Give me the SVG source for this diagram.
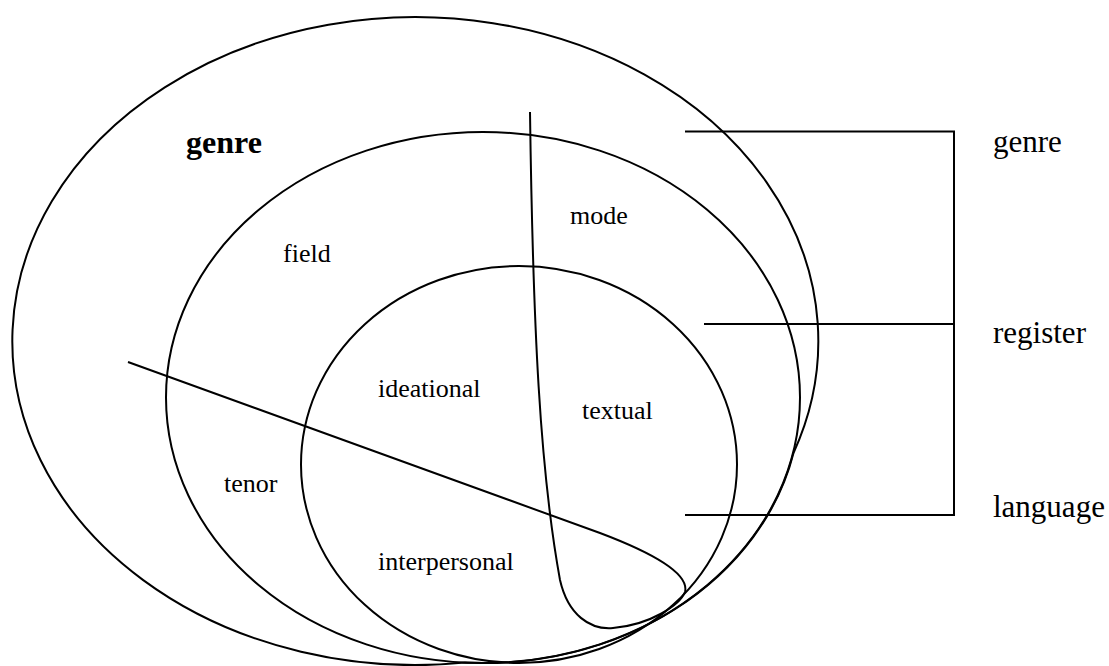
<svg xmlns="http://www.w3.org/2000/svg" width="1109" height="666" viewBox="0 0 1109 666">
<style>
.ln{fill:none;stroke:#000;stroke-width:2}
.t{font-family:"Liberation Serif","Times New Roman",serif;fill:#000}
.lab{font-size:26px}
.side{font-size:31px}
.bold{font-size:32px;font-weight:bold}
</style>
<rect width="1109" height="666" fill="#fff"/>
<g id="genre-circle"><path class="ln" d="M793.5,453 A403,324 0 1 0 465,662.6 A317,265.5 0 0 0 793.5,453"/></g>
<g id="register-circle"><ellipse class="ln" cx="483" cy="397.5" rx="317" ry="265.5"/></g>
<g id="language-circle"><ellipse class="ln" cx="519" cy="464.5" rx="218" ry="198.5"/></g>
<g id="connectors">
<path id="divider" class="ln" d="M128,362 L600,533 C645,550 690,572 685,592 C680,605 650,625 613,628 C590,630 568,615 560,580 C540,470 533,330 530,112"/>
<path id="bracket" class="ln" d="M685,131.5 H954 V515 H685 M704,324 H954"/>
</g>
<g id="labels">
<text class="t bold" x="186" y="153">genre</text>
<text class="t lab" x="283" y="262">field</text>
<text class="t lab" x="570" y="224">mode</text>
<text class="t lab" x="378" y="397">ideational</text>
<text class="t lab" x="582" y="419">textual</text>
<text class="t lab" x="224" y="492">tenor</text>
<text class="t lab" x="378" y="570">interpersonal</text>
<text class="t side" x="993" y="152">genre</text>
<text class="t side" x="993" y="343">register</text>
<text class="t side" x="993" y="517">language</text>
</g>
</svg>
